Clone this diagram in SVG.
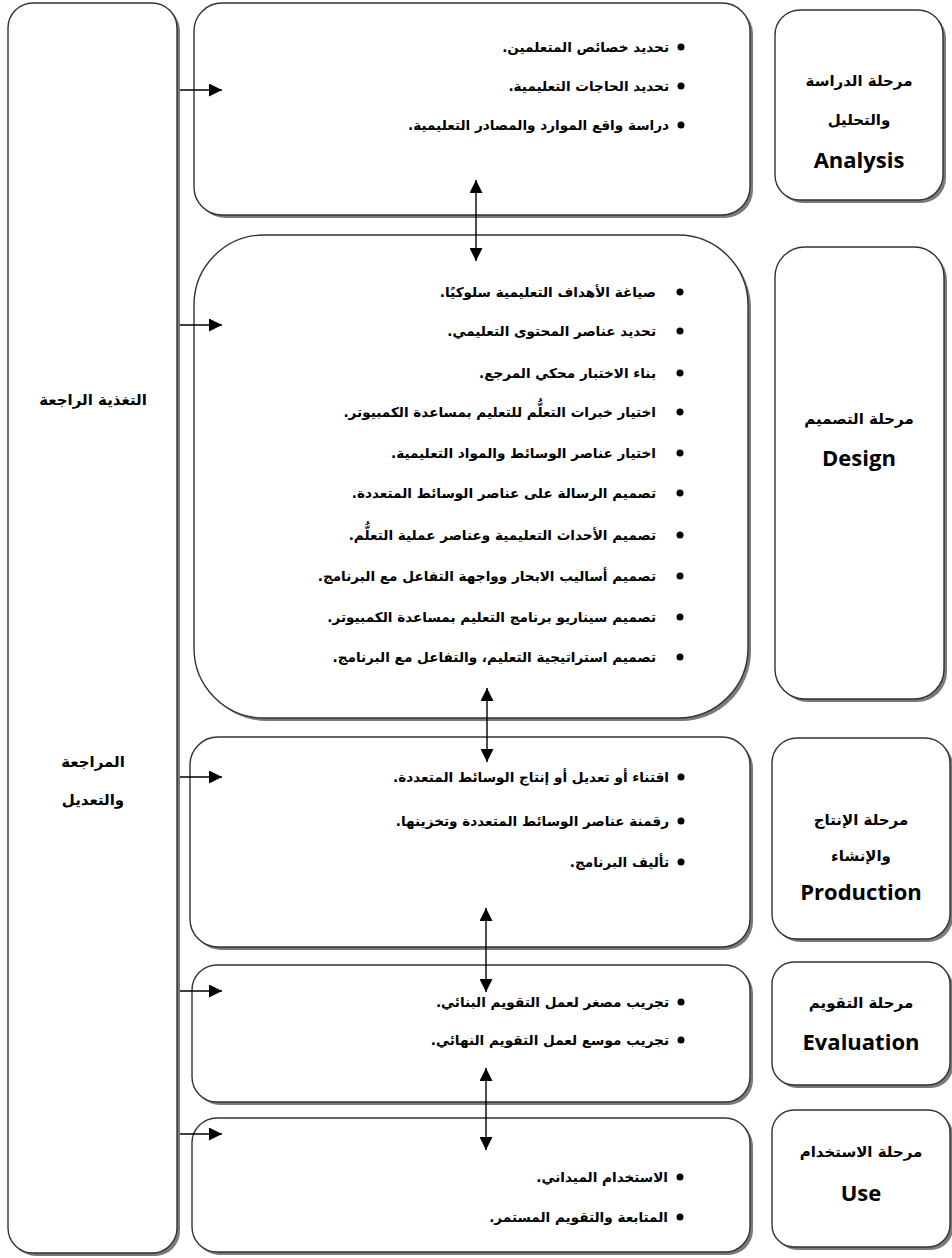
<svg xmlns="http://www.w3.org/2000/svg" width="952" height="1258" viewBox="0 0 952 1258">
<style>
.box{fill:#fff;stroke:#333;stroke-width:1.4}
.sh{fill:#7a7a7a}
.ar{font-family:"DejaVu Sans",sans-serif;font-weight:bold;font-size:13.6px;fill:#000;direction:rtl}
.tt{font-family:"DejaVu Sans",sans-serif;font-weight:bold;font-size:15px;fill:#000;text-anchor:middle;direction:rtl}
.en{font-family:"Open Sans",sans-serif;font-weight:bold;font-size:22px;fill:#000;text-anchor:middle}
.ln{stroke:#000;stroke-width:1.4;fill:none}
.dot{fill:#000}
</style>
<defs>
<marker id="ahb" viewBox="0 0 10 10" refX="10" refY="5" markerWidth="13" markerHeight="13" markerUnits="userSpaceOnUse" orient="auto-start-reverse">
<path d="M0,0 L10,5 L0,10 z" fill="#000"/>
</marker>
</defs>

<g id="feedback">
<rect class="sh" x="11" y="6" width="169" height="1250" rx="25"/>
<rect class="box" x="8" y="3" width="169" height="1250" rx="25"/>
<text class="tt" x="93" y="405">التغذية الراجعة</text>
<text class="tt" x="93" y="767">المراجعة</text>
<text class="tt" x="93" y="805">والتعديل</text>
</g>

<g id="analysis-content">
<rect class="sh" x="197" y="6" width="556" height="212" rx="28"/>
<rect class="box" x="194" y="3" width="556" height="212" rx="28"/>
<circle class="dot" cx="681" cy="47" r="3.5"/>
<text class="ar" x="669" y="52">تحديد خصائص المتعلمين.</text>
<circle class="dot" cx="681" cy="86" r="3.5"/>
<text class="ar" x="669" y="91">تحديد الحاجات التعليمية.</text>
<circle class="dot" cx="681" cy="125" r="3.5"/>
<text class="ar" x="669" y="130">دراسة واقع الموارد والمصادر التعليمية.</text>
</g>

<g id="design-content">
<rect class="sh" x="197" y="238" width="554" height="483" rx="70"/>
<rect class="box" x="194" y="235" width="554" height="483" rx="70"/>
<circle class="dot" cx="680" cy="292" r="3.5"/>
<text class="ar" x="656" y="297">صياغة الأهداف التعليمية سلوكيًا.</text>
<circle class="dot" cx="680" cy="331" r="3.5"/>
<text class="ar" x="656" y="336">تحديد عناصر المحتوى التعليمي.</text>
<circle class="dot" cx="680" cy="373" r="3.5"/>
<text class="ar" x="656" y="378">بناء الاختبار محكي المرجع.</text>
<circle class="dot" cx="680" cy="412" r="3.5"/>
<text class="ar" x="656" y="417">اختيار خبرات التعلُّم للتعليم بمساعدة الكمبيوتر.</text>
<circle class="dot" cx="680" cy="453" r="3.5"/>
<text class="ar" x="656" y="458">اختيار عناصر الوسائط والمواد التعليمية.</text>
<circle class="dot" cx="680" cy="493" r="3.5"/>
<text class="ar" x="656" y="498">تصميم الرسالة على عناصر الوسائط المتعددة.</text>
<circle class="dot" cx="680" cy="535" r="3.5"/>
<text class="ar" x="656" y="540">تصميم الأحداث التعليمية وعناصر عملية التعلُّم.</text>
<circle class="dot" cx="680" cy="576" r="3.5"/>
<text class="ar" x="656" y="581">تصميم أساليب الابحار وواجهة التفاعل مع البرنامج.</text>
<circle class="dot" cx="680" cy="617" r="3.5"/>
<text class="ar" x="656" y="622">تصميم سيناريو برنامج التعليم بمساعدة الكمبيوتر.</text>
<circle class="dot" cx="680" cy="657" r="3.5"/>
<text class="ar" x="656" y="662">تصميم استراتيجية التعليم، والتفاعل مع البرنامج.</text>
</g>

<g id="production-content">
<rect class="sh" x="193" y="740" width="560" height="210" rx="28"/>
<rect class="box" x="190" y="737" width="560" height="210" rx="28"/>
<circle class="dot" cx="681" cy="777" r="3.5"/>
<text class="ar" x="669" y="782">اقتناء أو تعديل أو إنتاج الوسائط المتعددة.</text>
<circle class="dot" cx="681" cy="821" r="3.5"/>
<text class="ar" x="669" y="826">رقمنة عناصر الوسائط المتعددة وتخزينها.</text>
<circle class="dot" cx="681" cy="862" r="3.5"/>
<text class="ar" x="669" y="867">تأليف البرنامج.</text>
</g>

<g id="evaluation-content">
<rect class="sh" x="195" y="968" width="558" height="137" rx="25"/>
<rect class="box" x="192" y="965" width="558" height="137" rx="25"/>
<circle class="dot" cx="681" cy="1002" r="3.5"/>
<text class="ar" x="669" y="1007">تجريب مصغر لعمل التقويم البنائي.</text>
<circle class="dot" cx="681" cy="1040" r="3.5"/>
<text class="ar" x="669" y="1045">تجريب موسع لعمل التقويم النهائي.</text>
</g>

<g id="use-content">
<rect class="sh" x="195" y="1121" width="558" height="134" rx="25"/>
<rect class="box" x="192" y="1118" width="558" height="134" rx="25"/>
<circle class="dot" cx="680" cy="1177" r="3.5"/>
<text class="ar" x="668" y="1182">الاستخدام الميداني.</text>
<circle class="dot" cx="680" cy="1217" r="3.5"/>
<text class="ar" x="668" y="1222">المتابعة والتقويم المستمر.</text>
</g>

<g id="analysis-stage">
<rect class="sh" x="778" y="13" width="168" height="190" rx="25"/>
<rect class="box" x="775" y="10" width="168" height="190" rx="25"/>
<text class="tt" x="859" y="86">مرحلة الدراسة</text>
<text class="tt" x="859" y="125">والتحليل</text>
<text class="en" x="859" y="168">Analysis</text>
</g>

<g id="design-stage">
<rect class="sh" x="778" y="250" width="169" height="452" rx="30"/>
<rect class="box" x="775" y="247" width="169" height="452" rx="30"/>
<text class="tt" x="859" y="424">مرحلة التصميم</text>
<text class="en" x="859" y="466">Design</text>
</g>

<g id="production-stage">
<rect class="sh" x="775" y="741" width="178" height="201" rx="25"/>
<rect class="box" x="772" y="738" width="178" height="201" rx="25"/>
<text class="tt" x="861" y="825">مرحلة الإنتاج</text>
<text class="tt" x="861" y="861">والإنشاء</text>
<text class="en" x="861" y="900">Production</text>
</g>

<g id="evaluation-stage">
<rect class="sh" x="775" y="965" width="178" height="123" rx="22"/>
<rect class="box" x="772" y="962" width="178" height="123" rx="22"/>
<text class="tt" x="861" y="1008">مرحلة التقويم</text>
<text class="en" x="861" y="1050">Evaluation</text>
</g>

<g id="use-stage">
<rect class="sh" x="775" y="1113" width="178" height="137" rx="22"/>
<rect class="box" x="772" y="1110" width="178" height="137" rx="22"/>
<text class="tt" x="861" y="1157">مرحلة الاستخدام</text>
<text class="en" x="861" y="1201">Use</text>
</g>

<g id="connectors">
<line class="ln" x1="180" y1="90" x2="222" y2="90" marker-end="url(#ahb)"/>
<line class="ln" x1="180" y1="325" x2="222" y2="325" marker-end="url(#ahb)"/>
<line class="ln" x1="180" y1="777" x2="222" y2="777" marker-end="url(#ahb)"/>
<line class="ln" x1="180" y1="991" x2="222" y2="991" marker-end="url(#ahb)"/>
<line class="ln" x1="180" y1="1134" x2="222" y2="1134" marker-end="url(#ahb)"/>
<line class="ln" x1="476" y1="180" x2="476" y2="261" marker-start="url(#ahb)" marker-end="url(#ahb)"/>
<line class="ln" x1="487" y1="688" x2="487" y2="762" marker-start="url(#ahb)" marker-end="url(#ahb)"/>
<line class="ln" x1="486" y1="908" x2="486" y2="992" marker-start="url(#ahb)" marker-end="url(#ahb)"/>
<line class="ln" x1="486" y1="1068" x2="486" y2="1150" marker-start="url(#ahb)" marker-end="url(#ahb)"/>
</g>
</svg>
